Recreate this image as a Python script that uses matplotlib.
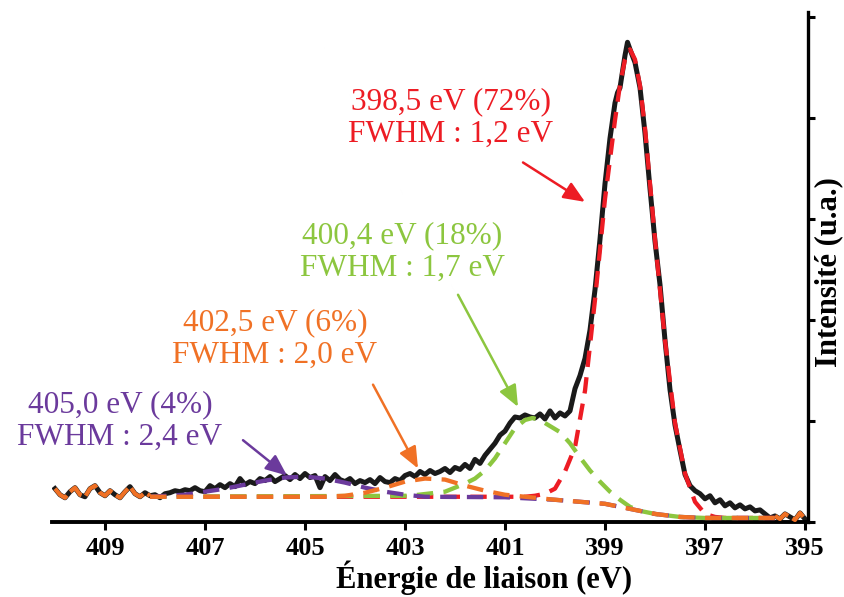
import numpy as np
import matplotlib
matplotlib.use('Agg')
import matplotlib.pyplot as plt

# measured spectrum (binding energy in eV, intensity in a.u.)
be_data = [410.0, 409.9, 409.8, 409.7, 409.6, 409.5, 409.4, 409.3, 409.2, 409.1,
           409.0, 408.9, 408.8, 408.7, 408.6, 408.5, 408.4, 408.3, 408.2, 408.1,
           408.0, 407.9, 407.8, 407.7, 407.6, 407.5, 407.4, 407.3, 407.2, 407.1,
           407.0, 406.9, 406.8, 406.7, 406.6, 406.5, 406.4, 406.3, 406.2, 406.1,
           406.0, 405.9, 405.8, 405.7, 405.6, 405.5, 405.4, 405.3, 405.2, 405.1,
           405.0, 404.9, 404.8, 404.7, 404.6, 404.5, 404.4, 404.3, 404.2, 404.1,
           404.0, 403.9, 403.8, 403.7, 403.6, 403.5, 403.4, 403.3, 403.2, 403.1,
           403.0, 402.9, 402.8, 402.7, 402.6, 402.5, 402.4, 402.3, 402.2, 402.1,
           402.0, 401.9, 401.8, 401.7, 401.6, 401.5, 401.4, 401.3, 401.2, 401.1,
           401.0, 400.9, 400.8, 400.7, 400.6, 400.5, 400.4, 400.3, 400.2, 400.1,
           400.0, 399.9, 399.8, 399.7, 399.6, 399.5, 399.4, 399.3, 399.2, 399.1,
           399.0, 398.9, 398.8, 398.75, 398.7, 398.6, 398.55, 398.5, 398.4, 398.3,
           398.2, 398.1, 398.0, 397.9, 397.8, 397.7, 397.6, 397.5, 397.4, 397.3,
           397.2, 397.1, 397.0, 396.9, 396.8, 396.7, 396.6, 396.5, 396.4, 396.3,
           396.2, 396.1, 396.0, 395.9, 395.8, 395.7, 395.6, 395.5, 395.4, 395.3,
           395.2, 395.1, 395.0]
counts = [0.33, 0.27, 0.24, 0.30, 0.34, 0.27, 0.25, 0.33, 0.36, 0.29,
          0.26, 0.31, 0.27, 0.24, 0.30, 0.35, 0.28, 0.25, 0.29, 0.26,
          0.27, 0.24, 0.28, 0.29, 0.31, 0.30, 0.32, 0.31, 0.34, 0.31,
          0.30, 0.36, 0.33, 0.37, 0.34, 0.38, 0.35, 0.43, 0.37, 0.40,
          0.38, 0.43, 0.41, 0.45, 0.40, 0.43, 0.46, 0.42, 0.47, 0.43,
          0.48, 0.44, 0.46, 0.34, 0.45, 0.41, 0.47, 0.42, 0.40, 0.43,
          0.38, 0.41, 0.39, 0.42, 0.38, 0.44, 0.40, 0.39, 0.43, 0.41,
          0.46, 0.48, 0.45, 0.50, 0.47, 0.51, 0.48, 0.50, 0.53, 0.49,
          0.54, 0.52, 0.57, 0.53, 0.62, 0.58, 0.66, 0.72, 0.78, 0.86,
          0.90, 0.98, 1.04, 1.03, 1.06, 1.04, 1.03, 1.07, 1.02, 1.10,
          1.03, 1.08, 1.05, 1.10, 1.32, 1.45, 1.62, 1.90, 2.30, 2.80,
          3.35, 3.80, 4.15, 4.25, 4.30, 4.62, 4.75, 4.68, 4.55, 4.30,
          3.85, 3.30, 2.78, 2.35, 1.80, 1.31, 0.96, 0.71, 0.47, 0.36,
          0.31, 0.28, 0.23, 0.26, 0.19, 0.22, 0.16, 0.19, 0.14, 0.17,
          0.13, 0.15, 0.11, 0.12, 0.08, 0.04, 0.06, 0.03, 0.08, 0.05,
          0.02, 0.09, 0.03]

# fitted components
e_red = [408.1, 402.0, 400.6, 400.4, 400.2, 400.0, 399.8, 399.6, 399.4, 399.2,
         399.0, 398.8, 398.7, 398.6, 398.5, 398.4, 398.3, 398.2, 398.0, 397.8,
         397.6, 397.4, 397.2, 397.0, 396.8, 396.6, 395.6]
i_red = [0.25, 0.25, 0.25, 0.26, 0.28, 0.33, 0.50, 0.74, 1.30, 2.20,
         3.20, 3.98, 4.33, 4.58, 4.68, 4.58, 4.32, 3.90, 2.80, 1.80,
         0.98, 0.48, 0.20, 0.08, 0.05, 0.04, 0.04]

e_green = [408.1, 402.9, 402.2, 401.8, 401.6, 401.4, 401.2, 401.0, 400.8, 400.6,
           400.45, 400.3, 400.1, 399.9, 399.7, 399.5, 399.3, 399.1, 398.9, 398.7,
           398.5, 398.3, 398.0, 397.5, 397.0, 395.6]
i_green = [0.25, 0.26, 0.30, 0.38, 0.43, 0.51, 0.63, 0.78, 0.93, 1.01,
           1.03, 1.01, 0.95, 0.89, 0.78, 0.64, 0.51, 0.40, 0.30, 0.22,
           0.15, 0.11, 0.08, 0.05, 0.04, 0.04]

e_orange = [408.1, 404.6, 404.2, 403.8, 403.4, 403.0, 402.6, 402.2, 401.8, 401.4,
            401.0, 400.6, 400.0, 399.5, 399.0, 398.5, 398.0, 397.5, 397.0, 395.6]
i_orange = [0.25, 0.25, 0.26, 0.29, 0.34, 0.40, 0.43, 0.42, 0.36, 0.31,
            0.27, 0.25, 0.22, 0.20, 0.18, 0.13, 0.08, 0.05, 0.04, 0.04]

e_purple = [408.1, 407.4, 407.0, 406.6, 406.2, 405.8, 405.4, 405.0, 404.6, 404.2,
            403.8, 403.4, 403.0, 402.6, 401.0, 400.0, 399.5, 399.0, 398.5, 398.0,
            397.5, 397.0, 395.6]
i_purple = [0.25, 0.27, 0.30, 0.33, 0.37, 0.41, 0.44, 0.45, 0.43, 0.39,
            0.34, 0.30, 0.27, 0.25, 0.245, 0.22, 0.20, 0.18, 0.13, 0.08,
            0.05, 0.04, 0.04]

labels = ['398,5 eV (72%)\nFWHM : 1,2 eV',
          '400,4 eV (18%)\nFWHM : 1,7 eV',
          '402,5 eV (6%)\nFWHM : 2,0 eV',
          '405,0 eV (4%)\nFWHM : 2,4 eV']
xticks = [409, 407, 405, 403, 401, 399, 397, 395]

RED = '#ED1C24'
GREEN = '#8CC63F'
ORANGE = '#F07125'
PURPLE = '#6B3A9C'
SERIF = 'Liberation Serif'

fig = plt.figure(figsize=(8.45, 5.97), dpi=100)
ax = fig.add_axes([52/845, 75/597, 756/845, 510/597])

dash = dict(lw=3.1, dashes=(3.8, 2.4))
ax.plot(be_data, counts, color='#1a1a1a', lw=3.6, zorder=2)
ax.plot(e_red, i_red, color=RED, zorder=3, **dash)
ax.plot(e_green, i_green, color=GREEN, zorder=4, **dash)
ax.plot(e_purple, i_purple, color=PURPLE, zorder=5, **dash)
ax.plot(e_orange, i_orange, color=ORANGE, zorder=6, **dash)

# outside the fit window the components just follow the data
be_arr = np.array(be_data)
cnt_arr = np.array(counts)
left = be_arr >= 408.1
right = be_arr <= 395.6
ax.plot(be_arr[left], cnt_arr[left], color=ORANGE, lw=3, dashes=(4, 1.2), zorder=6)
ax.plot(be_arr[right], cnt_arr[right], color=ORANGE, lw=3, dashes=(4, 1.2), zorder=6)

# labels + arrows
txt = [(402.08, 4.00), (403.06, 2.67), (405.60, 1.81), (408.70, 1.00)]
arrows = [((400.64, 3.56), (399.40, 3.17)),
          ((401.94, 2.25), (400.74, 1.14)),
          ((403.64, 1.36), (402.74, 0.53)),
          ((406.24, 0.81), (405.36, 0.46))]
colors = [RED, GREEN, ORANGE, PURPLE]
for lab, (tx, ty), (a0, a1), c in zip(labels, txt, arrows, colors):
    ax.text(tx, ty, lab, color=c, fontsize=22.5, family=SERIF,
            ha='center', va='center', linespacing=1.15)
    ax.annotate('', xy=a1, xytext=a0,
                arrowprops=dict(arrowstyle='-|>,head_length=1.3,head_width=0.55',
                                color=c, lw=1.8, shrinkA=0, shrinkB=0,
                                mutation_scale=10))

ax.set_xlim(410.06, 394.94)
ax.set_ylim(0, 5.05)
ax.set_xticks(xticks)
ax.set_xticklabels([str(t) for t in xticks], fontsize=19, fontweight='bold', family=SERIF)
ax.set_yticks([0, 1, 2, 3, 4, 5])
ax.yaxis.tick_right()
ax.set_yticklabels([])
ax.tick_params(axis='x', direction='out', length=6, width=2.2, pad=5)
ax.tick_params(axis='y', direction='out', length=5, width=2.2)
for s in ['top', 'left']:
    ax.spines[s].set_visible(False)
ax.spines['bottom'].set_linewidth(2.8)
ax.spines['right'].set_linewidth(2.4)

fig.text(484/845, (597-588)/597, 'Énergie de liaison (eV)', fontsize=22,
         fontweight='bold', family=SERIF, ha='center', va='baseline')
fig.text(829/845, (597-272)/597, 'Intensité (u.a.)', fontsize=22,
         fontweight='bold', family=SERIF, ha='center', va='center', rotation=90)

fig.savefig('out.png', dpi=100)
